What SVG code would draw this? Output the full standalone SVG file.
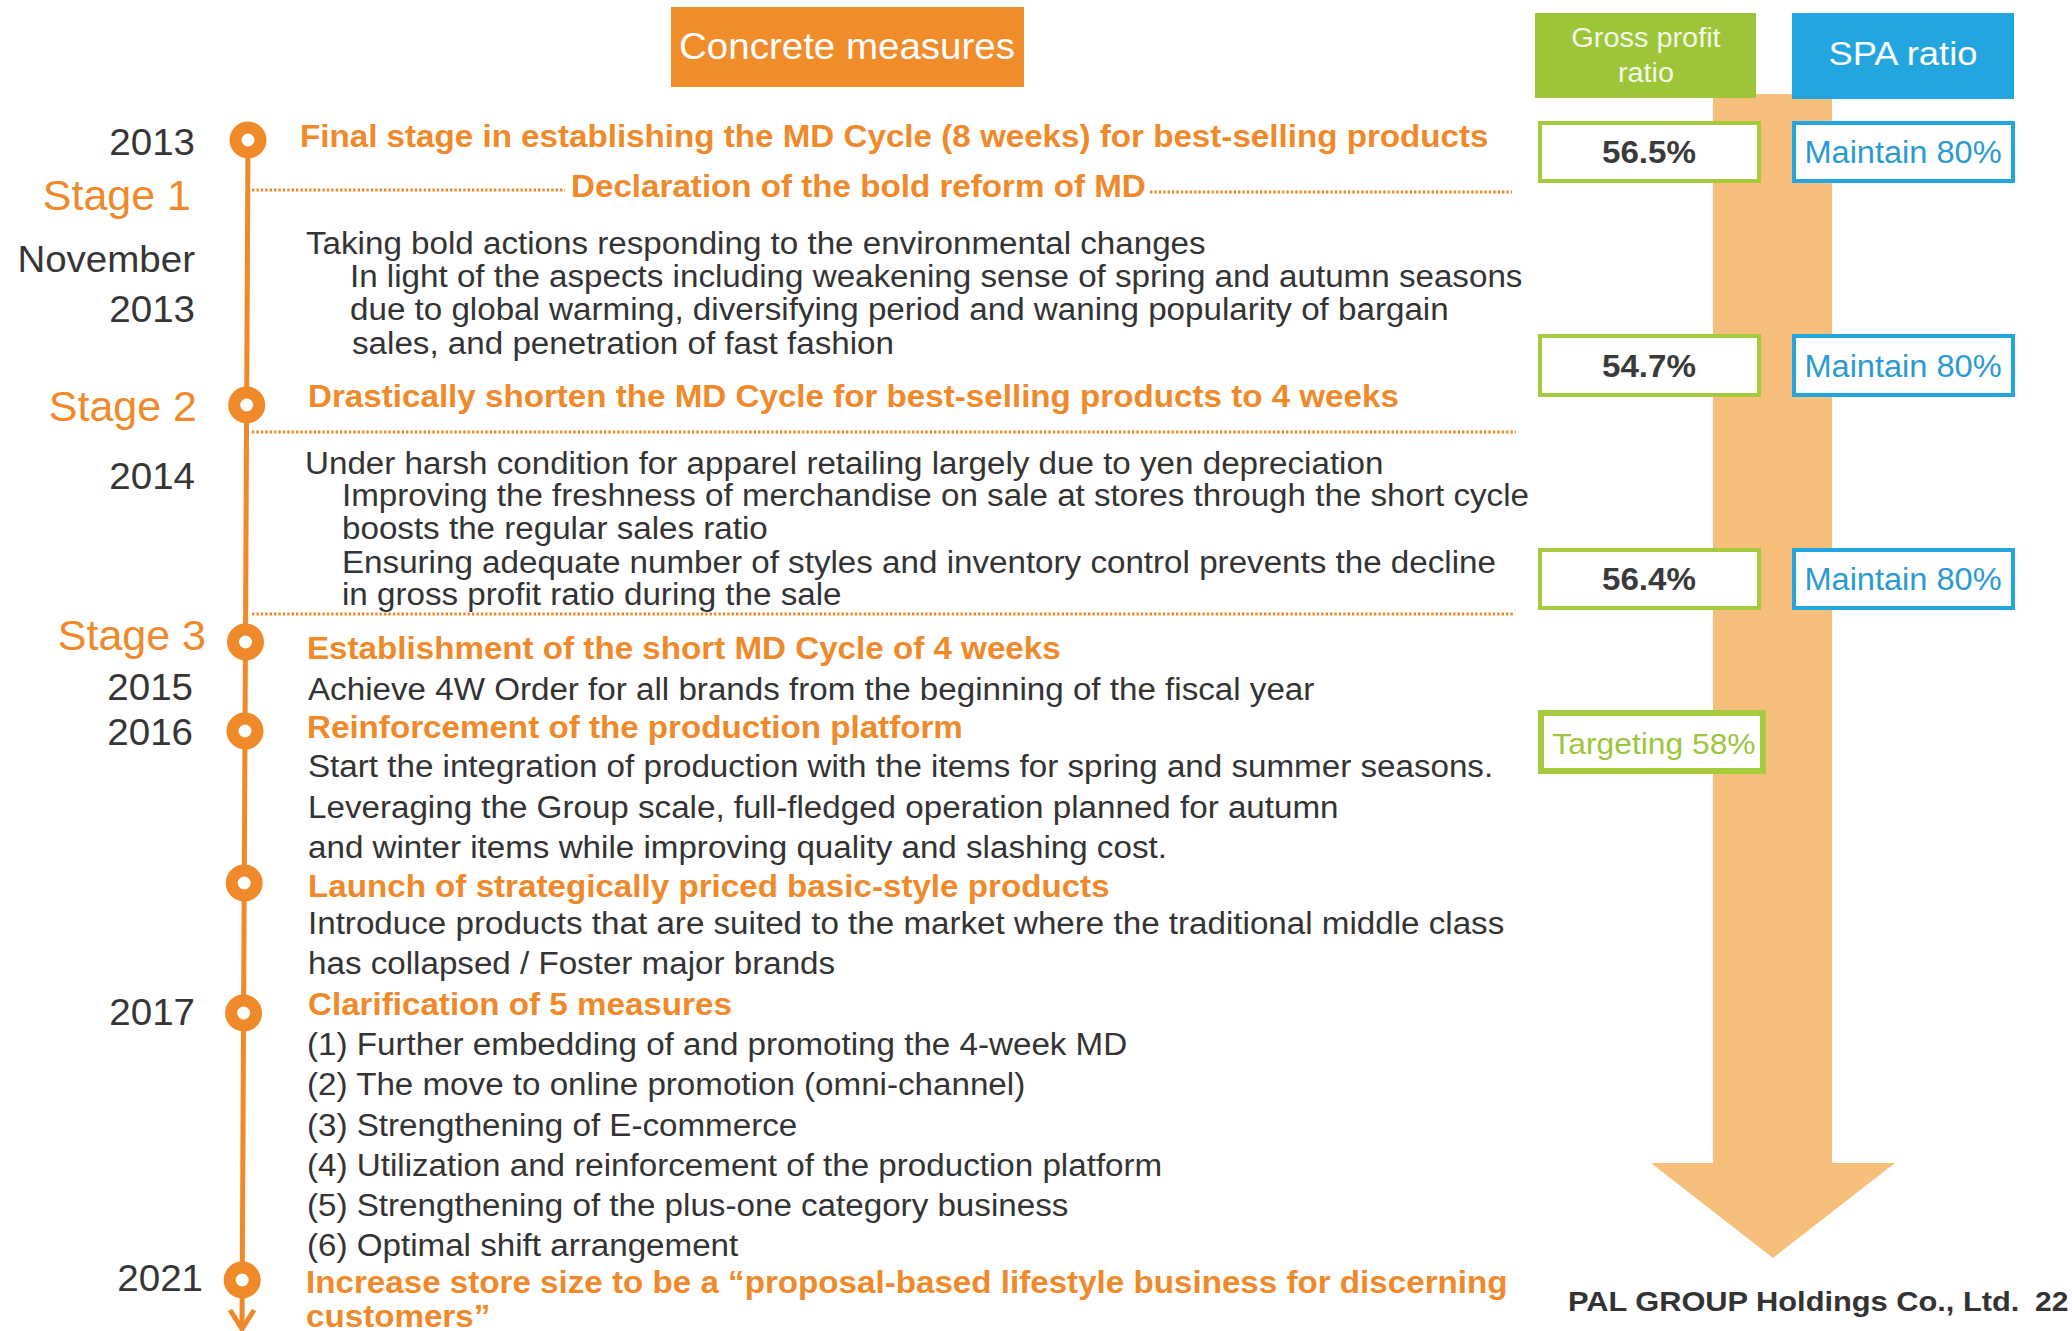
<svg xmlns="http://www.w3.org/2000/svg" width="2072" height="1331" viewBox="0 0 2072 1331">
  <defs>
    <style>
      text { font-family: "Liberation Sans", Arial, Helvetica, sans-serif; }
      .body  { font-size: 31px; fill: #333333; }
      .head  { font-size: 31px; font-weight: bold; fill: #F0892A; }
      .year  { font-size: 36px; fill: #363636; text-anchor: end; }
      .stage { font-size: 43px; fill: #F0892A; text-anchor: end; }
      .ring  { fill: #ffffff; stroke: #F0892A; stroke-width: 12; }
      .dots  { fill: none; stroke: #F0892A; stroke-width: 3; stroke-dasharray: 2.4 2; }
      .gp    { fill: #ffffff; stroke: #A5CB3C; stroke-width: 4; }
      .spa   { fill: #ffffff; stroke: #23A6E0; stroke-width: 4; }
      .gpv   { font-size: 31px; font-weight: bold; fill: #3a3a3a; text-anchor: middle; }
      .spav  { font-size: 31px; fill: #2A9AD4; text-anchor: middle; }
    </style>
  </defs>

  <rect width="2072" height="1331" fill="#ffffff"/>

  <!-- big trend arrow behind the ratio columns -->
  <path id="trend-arrow" d="M1713,94 H1832 V1163 H1895 L1773,1258 L1651,1163 H1713 Z" fill="#F6BF7C"/>

  <!-- column headers -->
  <g id="hdr-measures">
    <rect x="671" y="7" width="353" height="80" fill="#F08C2A"/>
    <text transform="translate(847 59) scale(1.07 1)" font-size="36" fill="#ffffff" text-anchor="middle">Concrete measures</text>
  </g>
  <g id="hdr-gross">
    <rect x="1535" y="13" width="221" height="85" fill="#9DC53A"/>
    <text transform="translate(1646 47) scale(1.07 1)" font-size="27" fill="#F4F9E6" text-anchor="middle">Gross profit</text>
    <text transform="translate(1646 82) scale(1.07 1)" font-size="27" fill="#F4F9E6" text-anchor="middle">ratio</text>
  </g>
  <g id="hdr-spa">
    <rect x="1792" y="13" width="222" height="86" fill="#23A6E0"/>
    <text transform="translate(1903 65) scale(1.07 1)" font-size="34" fill="#ffffff" text-anchor="middle">SPA ratio</text>
  </g>

  <!-- ratio values per period -->
  <g id="ratios-2013">
    <rect class="gp" x="1540" y="123" width="219" height="58"/>
    <text class="gpv" transform="translate(1649 163) scale(1.07 1)">56.5%</text>
    <rect class="spa" x="1794" y="123" width="219" height="58"/>
    <text class="spav" transform="translate(1903 163) scale(1.05 1)">Maintain 80%</text>
  </g>
  <g id="ratios-2014">
    <rect class="gp" x="1540" y="336" width="219" height="59"/>
    <text class="gpv" transform="translate(1649 377) scale(1.07 1)">54.7%</text>
    <rect class="spa" x="1794" y="336" width="219" height="59"/>
    <text class="spav" transform="translate(1903 377) scale(1.05 1)">Maintain 80%</text>
  </g>
  <g id="ratios-2015">
    <rect class="gp" x="1540" y="550" width="219" height="58"/>
    <text class="gpv" transform="translate(1649 590) scale(1.07 1)">56.4%</text>
    <rect class="spa" x="1794" y="550" width="219" height="58"/>
    <text class="spav" transform="translate(1903 590) scale(1.05 1)">Maintain 80%</text>
  </g>
  <g id="ratios-target">
    <rect x="1541" y="713" width="222" height="58" fill="#ffffff" stroke="#A5CB3C" stroke-width="6"/>
    <text transform="translate(1654 754) scale(1.06 1)" font-size="30" fill="#9DC53A" text-anchor="middle">Targeting 58%</text>
  </g>

  <!-- timeline spine, end arrow and dotted separators -->
  <g id="connectors">
    <line x1="248" y1="140" x2="242" y2="1328" stroke="#F0892A" stroke-width="5"/>
    <polyline points="230,1310 242,1329 254,1310" fill="none" stroke="#F0892A" stroke-width="5"/>
    <line class="dots" x1="252" y1="190" x2="565" y2="190"/>
    <line class="dots" x1="1150" y1="192" x2="1512" y2="192"/>
    <line class="dots" x1="252" y1="432" x2="1516" y2="432"/>
    <line class="dots" x1="252" y1="614" x2="1514" y2="614"/>
  </g>

  <!-- milestones -->
  <g id="m-2013">
    <circle class="ring" cx="248" cy="140" r="12.5"/>
    <text class="year" transform="translate(195 155) scale(1.07 1)">2013</text>
    <text class="head" transform="translate(300 147) scale(1.07 1)">Final stage in establishing the MD Cycle (8 weeks) for best-selling products</text>
  </g>

  <g id="m-stage1">
    <text class="stage" transform="translate(191 210)">Stage 1</text>
    <text class="year" transform="translate(195 272) scale(1.07 1)">November</text>
    <text class="year" transform="translate(195 322) scale(1.07 1)">2013</text>
    <text class="head" transform="translate(571 197) scale(1.07 1)">Declaration of the bold reform of MD</text>
    <text class="body" transform="translate(306 254) scale(1.07 1)">Taking bold actions responding to the environmental changes</text>
    <text class="body" transform="translate(350 287) scale(1.07 1)">In light of the aspects including weakening sense of spring and autumn seasons</text>
    <text class="body" transform="translate(350 320) scale(1.07 1)">due to global warming, diversifying period and waning popularity of bargain</text>
    <text class="body" transform="translate(352 354) scale(1.07 1)">sales, and penetration of fast fashion</text>
  </g>

  <g id="m-stage2">
    <circle class="ring" cx="246.7" cy="405" r="12.5"/>
    <text class="stage" transform="translate(197 421)">Stage 2</text>
    <text class="year" transform="translate(195 489) scale(1.07 1)">2014</text>
    <text class="head" transform="translate(308 407) scale(1.07 1)">Drastically shorten the MD Cycle for best-selling products to 4 weeks</text>
    <text class="body" transform="translate(305 474) scale(1.07 1)">Under harsh condition for apparel retailing largely due to yen depreciation</text>
    <text class="body" transform="translate(342 506) scale(1.07 1)">Improving the freshness of merchandise on sale at stores through the short cycle</text>
    <text class="body" transform="translate(342 539) scale(1.07 1)">boosts the regular sales ratio</text>
    <text class="body" transform="translate(342 573) scale(1.07 1)">Ensuring adequate number of styles and inventory control prevents the decline</text>
    <text class="body" transform="translate(342 605) scale(1.07 1)">in gross profit ratio during the sale</text>
  </g>

  <g id="m-stage3">
    <circle class="ring" cx="245.5" cy="642" r="12.5"/>
    <text class="stage" transform="translate(206 650)">Stage 3</text>
    <text class="year" transform="translate(193 700) scale(1.07 1)">2015</text>
    <text class="head" transform="translate(307 659) scale(1.07 1)">Establishment of the short MD Cycle of 4 weeks</text>
    <text class="body" transform="translate(308 700) scale(1.07 1)">Achieve 4W Order for all brands from the beginning of the fiscal year</text>
  </g>

  <g id="m-2016">
    <circle class="ring" cx="245" cy="731" r="12.5"/>
    <text class="year" transform="translate(193 745) scale(1.07 1)">2016</text>
    <text class="head" transform="translate(307 738) scale(1.07 1)">Reinforcement of the production platform</text>
    <text class="body" transform="translate(308 777) scale(1.07 1)">Start the integration of production with the items for spring and summer seasons.</text>
    <text class="body" transform="translate(308 818) scale(1.07 1)">Leveraging the Group scale, full-fledged operation planned for autumn</text>
    <text class="body" transform="translate(308 858) scale(1.07 1)">and winter items while improving quality and slashing cost.</text>
  </g>

  <g id="m-basic">
    <circle class="ring" cx="244.2" cy="883" r="12.5"/>
    <text class="head" transform="translate(308 897) scale(1.07 1)">Launch of strategically priced basic-style products</text>
    <text class="body" transform="translate(308 934) scale(1.07 1)">Introduce products that are suited to the market where the traditional middle class</text>
    <text class="body" transform="translate(308 974) scale(1.07 1)">has collapsed / Foster major brands</text>
  </g>

  <g id="m-2017">
    <circle class="ring" cx="243.6" cy="1013" r="12.5"/>
    <text class="year" transform="translate(195 1025) scale(1.07 1)">2017</text>
    <text class="head" transform="translate(308 1015) scale(1.07 1)">Clarification of 5 measures</text>
    <text class="body" transform="translate(307 1055) scale(1.07 1)">(1) Further embedding of and promoting the 4-week MD</text>
    <text class="body" transform="translate(307 1095) scale(1.07 1)">(2) The move to online promotion (omni-channel)</text>
    <text class="body" transform="translate(307 1136) scale(1.07 1)">(3) Strengthening of E-commerce</text>
    <text class="body" transform="translate(307 1176) scale(1.07 1)">(4) Utilization and reinforcement of the production platform</text>
    <text class="body" transform="translate(307 1216) scale(1.07 1)">(5) Strengthening of the plus-one category business</text>
    <text class="body" transform="translate(307 1256) scale(1.07 1)">(6) Optimal shift arrangement</text>
  </g>

  <g id="m-2021">
    <circle class="ring" cx="242.2" cy="1280" r="12.5"/>
    <text class="year" transform="translate(203 1291) scale(1.07 1)">2021</text>
    <text class="head" transform="translate(306 1293) scale(1.07 1)">Increase store size to be a “proposal-based lifestyle business for discerning</text>
    <text class="head" transform="translate(306 1327) scale(1.07 1)">customers”</text>
  </g>

  <!-- footer -->
  <g id="footer">
    <text transform="translate(1568 1311) scale(1.08 1)" font-size="28.5" font-weight="bold" fill="#333333">PAL GROUP Holdings Co., Ltd.</text>
    <text transform="translate(2035 1311) scale(1.07 1)" font-size="28" font-weight="bold" fill="#333333">22</text>
  </g>
</svg>
